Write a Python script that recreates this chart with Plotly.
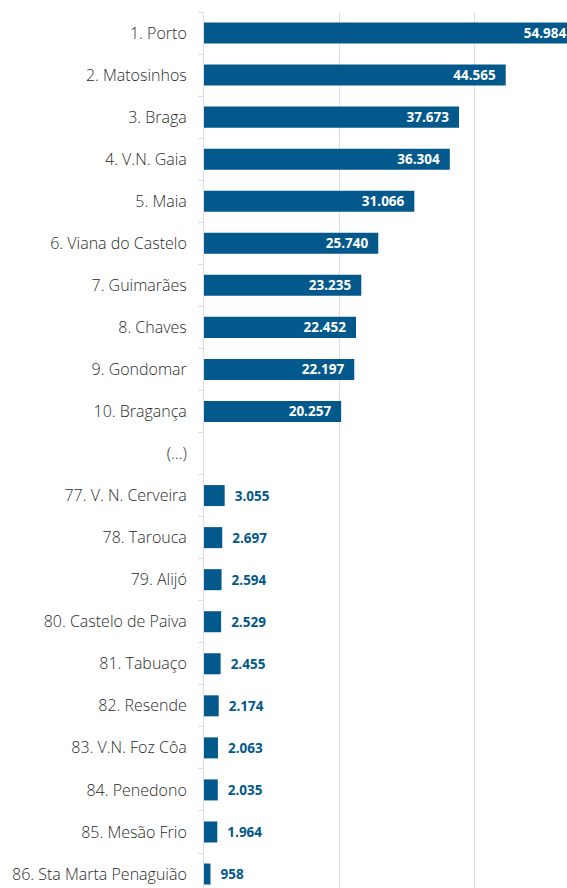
import plotly.graph_objects as go

categories = [
    "1. Porto", "2. Matosinhos", "3. Braga", "4. V.N. Gaia", "5. Maia",
    "6. Viana do Castelo", "7. Guimarães", "8. Chaves", "9. Gondomar", "10. Bragança",
    "(…)",
    "77. V. N. Cerveira", "78. Tarouca", "79. Alijó", "80. Castelo de Paiva",
    "81. Tabuaço", "82. Resende", "83. V.N. Foz Côa", "84. Penedono",
    "85. Mesão Frio", "86. Sta Marta Penaguião",
]
values = [
    54984, 44565, 37673, 36304, 31066, 25740, 23235, 22452, 22197, 20257,
    None,
    3055, 2697, 2594, 2529, 2455, 2174, 2063, 2035, 1964, 958,
]
inside_labels = 10  # first ten bars carry their value inside

BLUE = "#03598b"
LAV = "#dcdcee"
NB = "\u00a0"
LABEL_FONT = "Open Sans"

textpos = []
templates = []
for i, v in enumerate(values):
    if v is None:
        textpos.append("none")
        templates.append("")
    elif i < inside_labels:
        textpos.append("inside")
        templates.append("%{x:,.0f}" + NB * 2)
    else:
        textpos.append("outside")
        templates.append(NB * 2 + "%{x:,.0f}")

fig = go.Figure(
    go.Bar(
        y=categories,
        x=values,
        orientation="h",
        marker=dict(color=BLUE, line=dict(width=0)),
        texttemplate=templates,
        textposition=textpos,
        insidetextanchor="end",
        constraintext="none",
        textangle=0,
        insidetextfont=dict(family=LABEL_FONT, size=13.5, color="white", weight="bold"),
        outsidetextfont=dict(family=LABEL_FONT, size=13.5, color=BLUE, weight="bold"),
        cliponaxis=True,
        hoverinfo="skip",
    )
)

k = 0.00677  # px per unit
plot_w = 567 - 204
fig.update_layout(
    width=567,
    height=888,
    margin=dict(l=204, r=0, t=12, b=0),
    paper_bgcolor="white",
    plot_bgcolor="white",
    separators=",.",
    bargap=0.5,
    showlegend=False,
    font=dict(family=LABEL_FONT, size=14, color="#333333"),
    xaxis=dict(
        range=[0, plot_w / k],
        tickvals=[0, 20000, 40000, 60000],
        showticklabels=False,
        showgrid=True,
        gridcolor=LAV,
        gridwidth=1,
        zeroline=False,
        showline=False,
        fixedrange=True,
    ),
    yaxis=dict(
        type="category",
        categoryorder="array",
        categoryarray=categories,
        range=[-0.5 + 876 / 42.05, -0.5],
        tickson="boundaries",
        ticks="outside",
        ticklen=5,
        tickcolor=LAV,
        tickwidth=1,
        ticklabelstandoff=13,
        showline=True,
        linecolor=LAV,
        linewidth=1,
        showgrid=False,
        tickfont=dict(family=LABEL_FONT, size=16, color="#2b2b2b", weight=300),
        fixedrange=True,
    ),
)

fig.write_html("out.html")
